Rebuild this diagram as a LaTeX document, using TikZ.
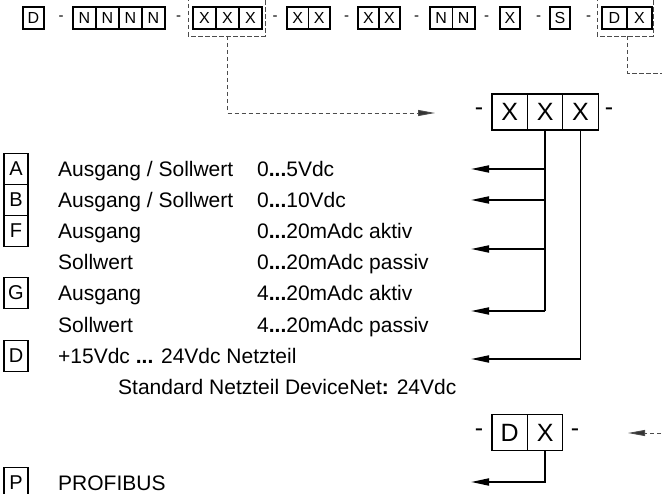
\documentclass[tikz,border=0pt]{standalone}
\usepackage{fontspec}
\setmainfont{Liberation Sans}
\usetikzlibrary{arrows.meta}
\begin{document}
\begin{tikzpicture}[x=1pt,y=-1pt,
  tcell/.style={draw,line width=1.1pt,minimum height=22pt,inner sep=0pt,font=\fontsize{16}{16}\selectfont},
  bcell/.style={draw,line width=1.3pt,minimum width=35.4pt,minimum height=36pt,inner sep=0pt,font=\fontsize{25}{25}\selectfont},
  lbox/.style={draw,line width=1.1pt,minimum width=24pt,minimum height=31pt,inner sep=0pt,font=\fontsize{20}{20}\selectfont},
  txt/.style={anchor=base west,inner sep=0pt,font=\fontsize{21}{21}\selectfont},
  sdash/.style={inner sep=0pt,font=\fontsize{15}{15}\selectfont},
  bdash/.style={inner sep=0pt,font=\fontsize{25}{25}\selectfont},
  conn/.style={line width=1.8pt},
  arr/.style={-{Triangle[length=18pt,width=7pt]}},
  dline/.style={draw=black!70,line width=0.9pt,dash pattern=on 4.5pt off 2.5pt},
  darr/.style={-{Triangle[length=17pt,width=6pt,fill=black!80]}},
]
\useasboundingbox (0,0) rectangle (662,494);
\clip (0,0) rectangle (662,494);
\fill[white] (0,0) rectangle (662,494);

% ---- top code row ----
\node[tcell,minimum width=21pt] (t1) at (33.5,18) {D};
\node[sdash] (h1) at (61,18) {-};
\node[tcell,minimum width=23pt] (n1) at (84.5,18) {N};
\node[tcell,minimum width=23pt] (n2) at (107.5,18) {N};
\node[tcell,minimum width=23pt] (n3) at (130.5,18) {N};
\node[tcell,minimum width=23pt] (n4) at (153.5,18) {N};
\node[sdash] (h2) at (178.5,18) {-};
\node[tcell,minimum width=23pt] (x1) at (204.5,18) {X};
\node[tcell,minimum width=23pt] (x2) at (227.5,18) {X};
\node[tcell,minimum width=23pt] (x3) at (250.5,18) {X};
\node[sdash] (h3) at (275,18) {-};
\node[tcell,minimum width=21.5pt] (y1) at (297.75,18) {X};
\node[tcell,minimum width=21.5pt] (y2) at (319.25,18) {X};
\node[sdash] (h4) at (346.5,18) {-};
\node[tcell,minimum width=21pt] (z1) at (368.5,18) {X};
\node[tcell,minimum width=21pt] (z2) at (389.5,18) {X};
\node[sdash] (h5) at (416.5,18) {-};
\node[tcell,minimum width=22.5pt] (m1) at (441.25,18) {N};
\node[tcell,minimum width=22.5pt] (m2) at (463.75,18) {N};
\node[sdash] (h6) at (486.5,18) {-};
\node[tcell,minimum width=20pt] (s1) at (510,18) {X};
\node[sdash] (h7) at (538.5,18) {-};
\node[tcell,minimum width=20pt] (s2) at (560,18) {S};
\node[sdash] (h8) at (588.5,18) {-};
\node[tcell,minimum width=25pt] (d1) at (614.5,18) {D};
\node[tcell,minimum width=25pt] (d2) at (639.5,18) {X};

% dashed frames
\draw[dline] (188,-3) rectangle (265,36);
\draw[dline] (597,-3) rectangle (653,36);
\coordinate (fx) at (227.5,36);
\coordinate (fd) at (627,36);

% ---- big XXX ----
\node[bcell] (b1) at (509.7,112) {X};
\node[bcell] (b2) at (545.1,112) {X};
\node[bcell] (b3) at (580.5,112) {X};
\node[bdash] (bh1) at (479,112) {-};
\node[bdash] (bh2) at (609,112) {-};

% dashed connector to big XXX
\coordinate (ax) at (435,113);
\draw[dline,darr] (fx) |- (ax);

% ---- bottom DX ----
\node[bcell] (c1) at (509.7,432.5) {D};
\node[bcell] (c2) at (545.1,432.5) {X};
\node[bdash] (ch1) at (479,432.5) {-};
\node[bdash] (ch2) at (575,432.5) {-};

% dashed connector DX
\coordinate (ex) at (668,73);
\draw[dline] (fd) |- (ex);
\coordinate (ein) at (668,433);
\coordinate (eout) at (628,433);
\draw[dline,darr] (ein) -- (eout);

% ---- arrow targets ----
\coordinate (pA) at (471,169);
\coordinate (pB) at (471,200);
\coordinate (pF) at (471,249);
\coordinate (pG) at (471,311);
\coordinate (pD) at (471,359);
\coordinate (pP) at (471,482);

\draw[conn] (b2.south) -- (b2.south |- pG);
\draw[conn,arr] (b2.south |- pA) -- (pA);
\draw[conn,arr] (b2.south |- pB) -- (pB);
\draw[conn,arr] (b2.south |- pF) -- (pF);
\draw[conn,arr] (b2.south |- pG) -- (pG);
\draw[conn,arr] (b3.south) |- (pD);
\draw[conn,arr] (c2.south) |- (pP);

% ---- left list ----
\node[lbox] (kA) at (16,169) {A};
\node[lbox] (kB) at (16,200) {B};
\node[lbox] (kF) at (16,231) {F};
\node[lbox] (kG) at (16,293) {G};
\node[lbox] (kD) at (16,356) {D};
\node[lbox] (kP) at (16,483) {P};

\node[txt] (l1) at (58,176.5) {Ausgang / Sollwert};
\node[txt] (r1) at (257,176.5) {0\textbf{...}5Vdc};
\node[txt] (l2) at (58,207.5) {Ausgang / Sollwert};
\node[txt] (r2) at (257,207.5) {0\textbf{...}10Vdc};
\node[txt] (l3) at (58,238.5) {Ausgang};
\node[txt] (r3) at (257,238.5) {0\textbf{...}20mAdc aktiv};
\node[txt] (l4) at (58,269.5) {Sollwert};
\node[txt] (r4) at (257,269.5) {0\textbf{...}20mAdc passiv};
\node[txt] (l5) at (58,300.5) {Ausgang};
\node[txt] (r5) at (257,300.5) {4\textbf{...}20mAdc aktiv};
\node[txt] (l6) at (58,332.5) {Sollwert};
\node[txt] (r6) at (257,332.5) {4\textbf{...}20mAdc passiv};
\node[txt] (l7) at (58,363.5) {+15Vdc \textbf{...} 24Vdc Netzteil};
\node[txt] (l8) at (118,394.5) {Standard Netzteil DeviceNet\textbf{:} 24Vdc};
\node[txt] (l9) at (58,490.5) {PROFIBUS};
\end{tikzpicture}
\end{document}
